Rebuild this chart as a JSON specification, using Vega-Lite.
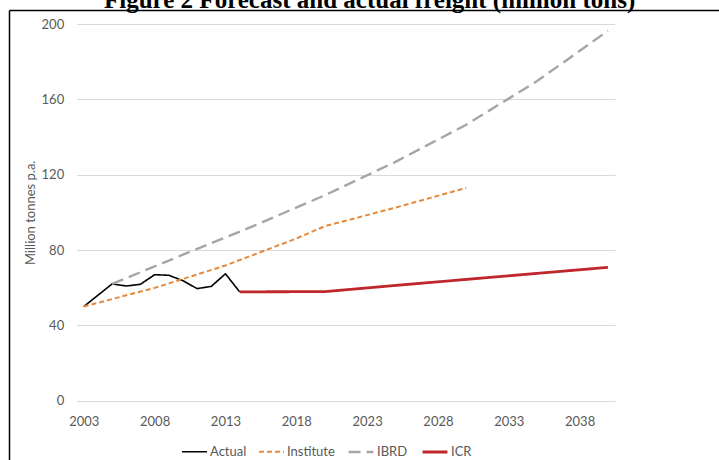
{
  "$schema": "https://vega.github.io/schema/vega-lite/v6.json",
  "autosize": "none",
  "padding": {"left": 9, "top": 10, "right": 0, "bottom": 0},
  "width": 710,
  "height": 450,
  "background": "white",
  "title": {
    "text": "Figure 2 Forecast and actual freight (million tons)",
    "font": "Liberation Serif",
    "fontSize": 25,
    "fontWeight": "bold",
    "color": "#000000",
    "anchor": "start",
    "frame": "group",
    "baseline": "alphabetic",
    "offset": 2.5,
    "dx": 95,
    "dy": 25
  },
  "data": {
    "values": [
      {"year": 2003, "series": "Actual", "value": 50},
      {"year": 2004, "series": "Actual", "value": 56},
      {"year": 2005, "series": "Actual", "value": 62},
      {"year": 2006, "series": "Actual", "value": 60.9},
      {"year": 2007, "series": "Actual", "value": 61.8},
      {"year": 2008, "series": "Actual", "value": 66.9},
      {"year": 2009, "series": "Actual", "value": 66.6},
      {"year": 2010, "series": "Actual", "value": 63.7},
      {"year": 2011, "series": "Actual", "value": 59.5},
      {"year": 2012, "series": "Actual", "value": 60.7},
      {"year": 2013, "series": "Actual", "value": 67.4},
      {"year": 2014, "series": "Actual", "value": 57.8},
      {"year": 2003, "series": "Institute", "value": 50},
      {"year": 2008, "series": "Institute", "value": 59.9},
      {"year": 2013, "series": "Institute", "value": 71.8},
      {"year": 2018, "series": "Institute", "value": 86.1},
      {"year": 2020, "series": "Institute", "value": 92.6},
      {"year": 2025, "series": "Institute", "value": 102.5},
      {"year": 2030, "series": "Institute", "value": 113},
      {"year": 2005, "series": "IBRD", "value": 62},
      {"year": 2010, "series": "IBRD", "value": 77.5},
      {"year": 2015, "series": "IBRD", "value": 92.8},
      {"year": 2020, "series": "IBRD", "value": 109},
      {"year": 2025, "series": "IBRD", "value": 126.8},
      {"year": 2030, "series": "IBRD", "value": 146.5},
      {"year": 2035, "series": "IBRD", "value": 169.7},
      {"year": 2040, "series": "IBRD", "value": 196.4},
      {"year": 2014, "series": "ICR", "value": 57.8},
      {"year": 2020, "series": "ICR", "value": 57.9},
      {"year": 2025, "series": "ICR", "value": 61.2},
      {"year": 2030, "series": "ICR", "value": 64.4},
      {"year": 2035, "series": "ICR", "value": 67.6},
      {"year": 2040, "series": "ICR", "value": 70.8}
    ]
  },
  "layer": [
    {
      "mark": {"type": "line", "strokeCap": "butt", "strokeJoin": "round"},
      "encoding": {
        "x": {
          "field": "year",
          "type": "quantitative",
          "scale": {"domain": [2002.5, 2040.5], "range": [67.7, 606], "nice": false, "zero": false},
          "axis": {
            "title": null,
            "orient": "bottom",
            "values": [2003, 2008, 2013, 2018, 2023, 2028, 2033, 2038],
            "format": "d",
            "ticks": false,
            "tickSize": 0,
            "domain": false,
            "grid": false,
            "offset": -59.3,
            "labelPadding": 15,
            "labelFont": "Lato",
            "labelFontSize": 13,
            "labelColor": "#595959"
          }
        },
        "y": {
          "field": "value",
          "type": "quantitative",
          "scale": {"domain": [0, 200], "range": [390.7, 14], "nice": false},
          "axis": {
            "title": "Million tonnes p.a.",
            "orient": "left",
            "titleFont": "Lato",
            "titleFontSize": 13,
            "titleFontWeight": "normal",
            "titleColor": "#595959",
            "titlePadding": 4,
            "values": [0, 40, 80, 120, 160, 200],
            "ticks": false,
            "tickSize": 0,
            "domain": false,
            "grid": true,
            "gridColor": "#D9D9D9",
            "gridWidth": 1,
            "offset": -67.7,
            "labelPadding": 13,
            "labelFont": "Lato",
            "labelFontSize": 13,
            "labelColor": "#595959"
          }
        },
        "color": {
          "field": "series",
          "type": "nominal",
          "scale": {
            "domain": ["Actual", "Institute", "IBRD", "ICR"],
            "range": ["#000000", "#E48A3C", "#A6A6A6", "#C0272D"]
          },
          "legend": {
            "orient": "none",
            "legendX": 172,
            "legendY": 428,
            "direction": "horizontal",
            "title": null,
            "symbolType": "stroke",
            "symbolSize": 620,
            "symbolStrokeWidth": 2,
            "labelFont": "Lato",
            "labelFontSize": 13,
            "labelColor": "#595959",
            "labelOffset": 2,
            "columnPadding": 8,
            "padding": 0
          }
        },
        "strokeDash": {
          "field": "series",
          "type": "nominal",
          "scale": {
            "domain": ["Actual", "Institute", "IBRD", "ICR"],
            "range": [[1, 0], [5, 3], [12, 6], [1, 0]]
          },
          "legend": {
            "orient": "none",
            "legendX": 172,
            "legendY": 428,
            "direction": "horizontal",
            "title": null
          }
        },
        "strokeWidth": {
          "field": "series",
          "type": "nominal",
          "scale": {
            "domain": ["Actual", "Institute", "IBRD", "ICR"],
            "range": [1.6, 2.8, 2.6, 2]
          },
          "legend": null
        }
      }
    },
    {
      "mark": {"type": "point", "opacity": 0},
      "encoding": {
        "x": {
          "field": "year",
          "type": "quantitative",
          "scale": {"domain": [2002.5, 2040.5], "nice": false, "zero": false},
          "axis": {
            "orient": "top",
            "title": null,
            "labels": false,
            "ticks": false,
            "grid": false,
            "domain": true,
            "domainColor": "#000000",
            "domainWidth": 1.5
          }
        },
        "y": {
          "field": "value",
          "type": "quantitative",
          "scale": {"domain": [0, 200], "nice": false},
          "axis": {
            "orient": "left",
            "title": null,
            "labels": false,
            "ticks": false,
            "grid": false,
            "domain": true,
            "domainColor": "#000000",
            "domainWidth": 1.5
          }
        }
      }
    }
  ],
  "resolve": {"scale": {"x": "independent", "y": "independent"}},
  "config": {
    "view": {"stroke": null, "fill": "white"}
  }
}
